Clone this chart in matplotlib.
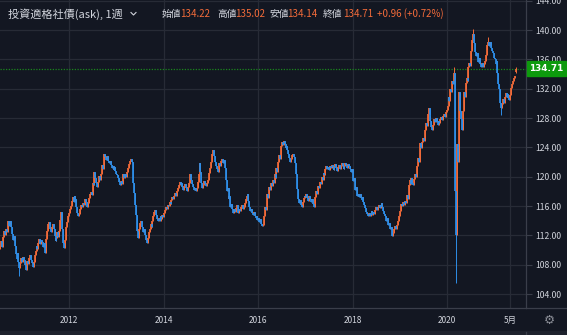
import numpy as np
import pandas as pd
import matplotlib
matplotlib.use("Agg")
import matplotlib.pyplot as plt
import matplotlib.dates as mdates
from matplotlib.lines import Line2D
from matplotlib.patches import Rectangle

# ---------------- data: weekly closes by calendar year ----------------
start_week = "2010-07-19"
first_open = 110.2

close_2010 = [110.5, 111.2, 110.4, 111.8, 112.6, 112.0, 112.9, 112.4, 113.2, 113.9, 113.3, 114.0,
              113.1, 112.2, 111.4, 111.9, 110.6, 109.5, 108.8, 109.6, 108.3, 107.6, 108.2, 108.9]
close_2011 = [108.4, 109.0, 108.6, 107.9, 107.3, 107.8, 108.5, 108.1, 108.9, 109.3, 108.6, 108.2, 107.7,
              108.4, 109.3, 109.9, 110.6, 110.2, 110.9, 111.5, 110.8, 111.4, 111.1, 110.4, 110.9, 109.6,
              110.3, 111.5, 112.6, 113.5, 113.8, 112.9, 112.4, 113.2, 113.6, 112.8, 111.9, 111.2, 111.6,
              112.4, 111.8, 112.6, 114.1, 115.2, 112.9, 111.0, 110.3, 111.4, 112.6, 113.1, 113.8, 114.6]
close_2012 = [115.0, 115.6, 116.0, 116.7, 117.2, 116.6, 117.4, 116.9, 115.8, 115.1, 114.6, 114.9, 115.6,
              116.2, 115.8, 116.4, 116.1, 116.7, 117.0, 116.5, 115.9, 116.4, 117.1, 117.6, 117.9, 117.5,
              119.2, 118.8, 120.6, 119.8, 119.1, 118.6, 119.3, 120.1, 119.6, 120.4, 121.6, 121.1, 122.6,
              123.1, 122.7, 122.3, 122.8, 122.1, 121.8, 122.2, 121.6, 121.2, 121.5, 120.9, 121.3, 120.8, 120.4]
close_2013 = [120.2, 119.8, 119.3, 118.9, 119.4, 119.0, 119.7, 120.3, 119.8, 120.4, 120.0, 120.6, 121.2,
              121.7, 122.1, 122.4, 122.0, 121.0, 119.2, 117.8, 116.2, 114.8, 112.6, 111.6, 112.9, 113.7,
              113.9, 113.6, 113.2, 112.5, 112.9, 112.0, 111.4, 111.0, 111.7, 112.4, 112.9, 113.6, 113.1,
              114.0, 114.6, 115.2, 115.4, 114.8, 114.2, 113.9, 114.3, 114.0, 114.6, 114.2, 114.8, 114.5]
close_2014 = [115.0, 115.4, 115.9, 115.6, 116.2, 116.0, 116.5, 116.3, 116.8, 117.2, 116.9, 117.4, 117.8,
              117.4, 118.0, 118.5, 118.9, 119.3, 118.8, 119.1, 118.6, 118.2, 118.7, 119.0, 118.5, 118.1,
              118.6, 119.2, 119.7, 120.3, 119.6, 119.0, 118.6, 118.2, 118.5, 118.0, 118.4, 119.3, 120.4,
              121.9, 120.7, 119.2, 118.5, 118.9, 119.4, 119.0, 118.7, 119.2, 119.6, 120.1, 120.5, 121.2]
close_2015 = [122.0, 123.1, 123.6, 122.8, 122.0, 121.4, 121.0, 120.7, 121.3, 121.8, 121.5, 122.1, 122.4,
              121.9, 122.3, 121.2, 119.6, 118.0, 118.5, 116.9, 117.3, 115.8, 116.3, 115.6, 115.1, 115.6,
              115.2, 115.7, 116.1, 115.5, 115.0, 115.6, 115.3, 115.9, 116.2, 115.6, 115.9, 116.4, 117.0,
              117.4, 117.6, 116.7, 115.8, 115.3, 115.6, 115.1, 114.8, 115.2, 114.7, 114.3, 114.6, 114.1]
close_2016 = [114.3, 113.8, 114.2, 113.6, 113.3, 113.4, 114.6, 115.9, 115.4, 116.8, 117.6, 117.1, 118.6,
              118.2, 119.2, 118.7, 119.6, 119.1, 120.3, 119.8, 121.2, 120.7, 122.0, 122.9, 122.4, 124.2,
              124.7, 124.3, 124.8, 124.4, 123.9, 124.2, 123.7, 123.1, 122.5, 122.0, 122.4, 122.9, 123.1,
              122.7, 121.9, 121.2, 120.4, 118.3, 116.9, 116.4, 116.8, 116.2, 115.9, 116.5, 117.1, 117.4]
close_2017 = [117.2, 117.6, 117.1, 116.7, 117.3, 116.9, 116.5, 117.0, 116.3, 115.9, 116.4, 117.2, 118.0,
              117.6, 118.7, 118.4, 119.3, 119.0, 120.0, 119.6, 120.5, 120.2, 121.1, 121.4, 121.0, 121.3,
              120.9, 121.4, 121.2, 121.6, 121.3, 120.9, 121.4, 121.7, 121.2, 120.8, 121.3, 121.6, 121.1,
              121.5, 121.8, 121.4, 121.0, 121.5, 121.9, 121.6, 121.2, 121.7, 121.4, 121.0, 120.6, 121.0]
close_2018 = [120.3, 119.4, 119.8, 118.2, 118.6, 117.3, 117.7, 117.2, 117.6, 117.1, 116.8, 117.2, 116.6,
              116.1, 115.7, 115.2, 114.9, 114.6, 115.0, 114.7, 114.9, 115.3, 114.8, 115.2, 114.9, 115.4,
              115.8, 115.5, 115.9, 116.2, 115.7, 116.1, 116.4, 115.8, 115.3, 114.9, 114.6, 114.0, 114.3,
              113.4, 113.7, 112.8, 113.1, 112.2, 111.9, 112.3, 112.8, 113.3, 112.9, 113.4, 114.0, 114.7, 115.3]
close_2019 = [115.8, 116.3, 116.0, 116.5, 116.2, 116.7, 116.4, 117.5, 117.0, 118.9, 119.6, 119.0, 119.8,
              119.2, 118.8, 119.7, 120.4, 120.0, 121.5, 122.6, 122.0, 124.0, 124.6, 123.9, 124.7, 125.3,
              124.9, 126.4, 127.3, 126.9, 128.6, 129.3, 128.4, 127.6, 126.8, 126.3, 127.0, 127.8, 127.4,
              128.0, 127.5, 127.1, 127.6, 127.3, 127.8, 128.1, 127.7, 128.3, 128.6, 128.2, 128.8, 129.1]
close_2020 = [129.6, 130.8, 130.3, 131.9, 131.5, 133.1, 132.6, 134.2, 118.0, 112.0, 124.5, 122.0, 130.3,
              131.5, 129.0, 127.8, 126.4, 128.9, 131.6, 130.9, 132.8, 133.4, 133.0, 134.9, 135.5, 135.1,
              137.2, 138.6, 139.4, 138.2, 137.0, 136.4, 136.9, 136.1, 135.6, 136.2, 135.4, 135.0, 135.5,
              134.9, 135.3, 135.8, 136.6, 137.3, 137.9, 138.4, 137.8, 138.3, 137.6, 137.2, 136.8, 136.2]
close_2021 = [136.0, 135.4, 135.8, 134.2, 132.6, 131.9, 130.0, 129.3, 129.9, 130.6, 130.1, 130.8, 131.4,
              130.9, 131.3, 130.7, 130.4, 131.2, 132.1, 132.6, 133.1, 133.4, 133.75, 134.71]

# weeks whose shadows reach beyond the body
wick_highs = {"2020-02-24": 135.0, "2020-07-20": 140.1, "2020-11-16": 139.1}
wick_lows = {"2010-12-13": 106.4, "2020-03-09": 105.5, "2021-02-22": 128.4}

# latest bar (open gaps up from the previous close)
last_open, last_high, last_low = 134.22, 135.02, 134.14

title = "投資適格社債(ask), 1週"
ohlc_labels = ["始値", "高値", "安値", "終値"]
y_ticks = [104, 108, 112, 116, 120, 124, 128, 132, 136, 140, 144]
x_tick_dates = ["2012-01-01", "2014-01-01", "2016-01-01", "2018-01-01", "2020-01-01", "2021-05-01"]
x_tick_labels = ["2012", "2014", "2016", "2018", "2020", "5月"]

# ---------------- build OHLC ----------------
closes = np.array(close_2010 + close_2011 + close_2012 + close_2013 + close_2014 + close_2015 +
                  close_2016 + close_2017 + close_2018 + close_2019 + close_2020 + close_2021)
dates = pd.date_range(start_week, periods=len(closes), freq="7D")
opens = np.r_[first_open, closes[:-1]]
opens[-1] = last_open
highs = np.maximum(opens, closes)
lows = np.minimum(opens, closes)
idx = {d: i for i, d in enumerate(dates.strftime("%Y-%m-%d"))}
for d, v in wick_highs.items():
    highs[idx[d]] = max(highs[idx[d]], v)
for d, v in wick_lows.items():
    lows[idx[d]] = min(lows[idx[d]], v)
highs[-1] = last_high
lows[-1] = last_low
x = mdates.date2num(dates)

# ---------------- style ----------------
BG = "#131722"
GRID = "#272b36"
AXIS = "#3a3e4a"
TEXT = "#d1d4dc"
UP = "#f26b3a"
DOWN = "#2e8ee8"
PRICE_GREEN = "#0d9a0d"

plt.rcParams["font.family"] = ["Noto Sans CJK JP", "DejaVu Sans"]

W, H = 567, 335
fig = plt.figure(figsize=(W / 100, H / 100), dpi=100, facecolor=BG)
ax_right, ax_bottom = 526, 308
ax = fig.add_axes([0, (H - ax_bottom) / H, ax_right / W, ax_bottom / H], facecolor=BG)

# candles
up = closes >= opens
body_lo = np.minimum(opens, closes)
body_hi = np.maximum(opens, closes)
for mask, col in ((up, UP), (~up, DOWN)):
    ax.vlines(x[mask], lows[mask], highs[mask], color=col, lw=0.7, zorder=3)
    ax.vlines(x[mask], body_lo[mask], body_hi[mask], color=col, lw=1.25, zorder=3)

# axes limits (year 2012 at px 69, 47.25 px per year)
base = mdates.date2num(pd.Timestamp("2012-01-01"))
days_per_px = 365.25 / 47.25
ax.set_xlim(base - 69 * days_per_px, base + (ax_right - 69) * days_per_px)
px_per_unit = 264 / 36.0
ax.set_ylim(140 - (ax_bottom - 30) / px_per_unit, 140 + 30 / px_per_unit)

# grid
ax.set_yticks(y_ticks)
ax.set_yticklabels([f"{v:.2f}" for v in y_ticks])
ax.set_xticks(mdates.date2num(pd.to_datetime(x_tick_dates)))
ax.set_xticklabels(x_tick_labels)
ax.grid(True, color=GRID, lw=0.9)
ax.set_axisbelow(True)
ax.yaxis.tick_right()
ax.tick_params(axis="y", direction="out", length=4, width=0.8, color=AXIS,
               labelsize=6.2, labelcolor=TEXT, pad=3)
ax.tick_params(axis="x", length=0, labelsize=6, labelcolor=TEXT, pad=6)
for s in ("top", "left"):
    ax.spines[s].set_visible(False)
for s in ("right", "bottom"):
    ax.spines[s].set_color(AXIS)
    ax.spines[s].set_linewidth(0.9)

# last price line and tag
last_close = closes[-1]
ax.axhline(last_close, color="#1c9a1c", lw=0.9, ls=(0, (1, 1.2)), alpha=0.85, zorder=2)
y_px = 30 + (140 - last_close) * px_per_unit
fig.patches.append(Rectangle((527 / W, 1 - (y_px + 7.5) / H), 39 / W, 15 / H,
                             transform=fig.transFigure, color=PRICE_GREEN, zorder=5))
fig.text(546.5 / W, 1 - y_px / H, f"{last_close:.2f}", color="white", fontsize=6.4,
         fontweight="bold", ha="center", va="center", family="DejaVu Sans", zorder=6)

# frame lines beyond the plot
fig.lines.append(Line2D([ax_right / W, ax_right / W], [0.01, 0], transform=fig.transFigure,
                        color=AXIS, lw=0.9))
fig.lines.append(Line2D([ax_right / W, 1], [(H - ax_bottom) / H] * 2, transform=fig.transFigure,
                        color=AXIS, lw=0.9))
fig.patches.append(Rectangle((0, 0), 1, 4 / H, transform=fig.transFigure, color="#1e222d", zorder=0))
fig.text(549 / W, 1 - 320 / H, "⚙", color="#8a8d96", fontsize=9, ha="center", va="center",
         family="DejaVu Sans")

# header
fig.text(8 / W, 1 - 14 / H, title, color=TEXT, fontsize=8, ha="left", va="center")
fig.lines.append(Line2D([131 / W, 133.5 / W, 136 / W], [1 - 12.5 / H, 1 - 15 / H, 1 - 12.5 / H],
                        transform=fig.transFigure, color=TEXT, lw=0.8))
prev_close = closes[-2]
change = last_close - prev_close
values = [last_open, last_high, last_low, last_close]
label_x = [162, 217, 269, 323]
value_x = [180, 235, 287, 343]
for lab, val, lx, vx in zip(ohlc_labels, values, label_x, value_x):
    fig.text(lx / W, 1 - 14 / H, lab, color=TEXT, fontsize=7, ha="left", va="center")
    fig.text(vx / W, 1 - 14 / H, f"{val:.2f}", color=UP, fontsize=7, ha="left", va="center")
fig.text(377 / W, 1 - 14 / H, f"{change:+.2f} ({change / prev_close * 100:+.2f}%)", color=UP,
         fontsize=7, ha="left", va="center")

fig.savefig("out.png", dpi=100, facecolor=BG)
